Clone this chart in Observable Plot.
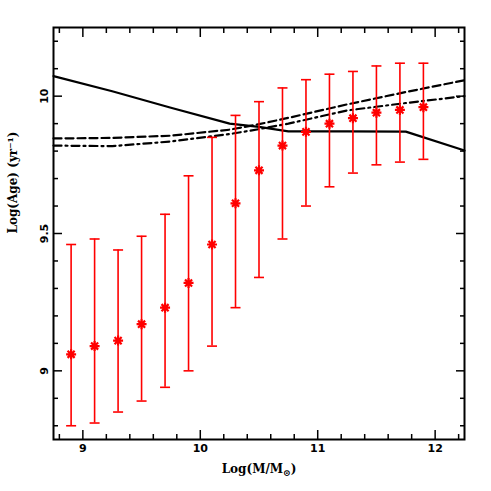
<!DOCTYPE html>
<html><head><meta charset="utf-8">
<script src="https://cdn.jsdelivr.net/npm/d3@7"></script>
<script src="https://cdn.jsdelivr.net/npm/@observablehq/plot@0.6"></script>
<style>html,body{margin:0;padding:0;background:#fff}</style>
</head><body><div id="chart"></div>
<script>
// Binned observations: log stellar mass vs log age
const massBins = [8.9, 9.1, 9.3, 9.5, 9.7, 9.9, 10.1, 10.3, 10.5, 10.7, 10.9, 11.1, 11.3, 11.5, 11.7, 11.9];
const ageMean  = [9.06, 9.09, 9.11, 9.17, 9.23, 9.32, 9.46, 9.61, 9.73, 9.82, 9.87, 9.90, 9.92, 9.94, 9.95, 9.96];
const ageHigh  = [9.46, 9.48, 9.44, 9.49, 9.57, 9.71, 9.85, 9.93, 9.98, 10.03, 10.06, 10.08, 10.09, 10.11, 10.12, 10.12];
const ageLow   = [8.80, 8.81, 8.85, 8.89, 8.94, 9.00, 9.09, 9.23, 9.34, 9.48, 9.60, 9.67, 9.72, 9.75, 9.76, 9.77];

// Model curves
const modelMass   = [8.75, 9.25, 9.75, 10.25, 10.5, 10.75, 11.25, 11.75, 12.25];
const modelSolid  = [10.073, 10.018, 9.958, 9.900, 9.888, 9.872, 9.872, 9.871, 9.802];
const modelDashed = [9.846, 9.848, 9.856, 9.878, 9.898, 9.921, 9.970, 10.015, 10.058];
const modelDotDash= [9.820, 9.818, 9.835, 9.862, 9.880, 9.900, 9.948, 9.975, 10.000];

// Ticks
const xMajor = [9, 10, 11, 12];
const xMinor = [8.8, 9.2, 9.4, 9.6, 9.8, 10.2, 10.4, 10.6, 10.8, 11.2, 11.4, 11.6, 11.8, 12.2];
const yMajor = [9, 9.5, 10];
const yMinor = [8.8, 8.9, 9.1, 9.2, 9.3, 9.4, 9.6, 9.7, 9.8, 9.9, 10.1, 10.2];
const xTickLabels = ["9", "10", "11", "12"];
const yTickLabels = ["9", "9.5", "10"];
const xLabel = "Log(M/M⊙)";
const yLabel = "Log(Age) (yr⁻¹)";

const obs = massBins.map((m, i) => ({mass: m, mean: ageMean[i], hi: ageHigh[i], lo: ageLow[i]}));
const mk = ys => modelMass.map((m, i) => ({mass: m, age: ys[i]}));

const capSymbol = {draw(ctx, size) { const r = Math.sqrt(size / Math.PI); ctx.moveTo(-r, 0); ctx.lineTo(r, 0); }};
const starSymbol = {draw(ctx, size) {
  const r = Math.sqrt(size / Math.PI);
  for (const a of [0, 45, 90, 135]) {
    const t = a * Math.PI / 180, c = Math.cos(t) * r, s = Math.sin(t) * r;
    ctx.moveTo(-c, -s); ctx.lineTo(c, s);
  }
}};
// inward ticks drawn as axis tick marks with negative size
const tickX = (vals, side, len) => Plot.axisX(vals, {anchor: side, tickSize: -len, tickFormat: () => "", label: null, stroke: "black", strokeWidth: 1.5});
const tickY = (vals, side, len) => Plot.axisY(vals, {anchor: side, tickSize: -len, tickFormat: () => "", label: null, stroke: "black", strokeWidth: 1.5});

const tickFont = {fontFamily: "DejaVu Sans", fontSize: 11, fontWeight: "bold"};
const labFont = {fontFamily: "DejaVu Serif", fontSize: 12, fontWeight: "bold"};

const chart = Plot.plot({
  width: 491, height: 491,
  marginLeft: 53, marginRight: 27, marginTop: 27, marginBottom: 52,
  x: {domain: [8.75, 12.25]},
  y: {domain: [8.75, 10.25]},
  marks: [
    Plot.line(mk(modelSolid), {x: "mass", y: "age", stroke: "black", strokeWidth: 2.2}),
    Plot.line(mk(modelDashed), {x: "mass", y: "age", stroke: "black", strokeWidth: 2.2, strokeDasharray: "8,4"}),
    Plot.line(mk(modelDotDash), {x: "mass", y: "age", stroke: "black", strokeWidth: 2.2, strokeDasharray: "8,4,2,4"}),
    Plot.ruleX(obs, {x: "mass", y1: "lo", y2: "hi", stroke: "red", strokeWidth: 1.6}),
    Plot.dot(obs, {x: "mass", y: "hi", symbol: capSymbol, r: 5, stroke: "red", strokeWidth: 1.6}),
    Plot.dot(obs, {x: "mass", y: "lo", symbol: capSymbol, r: 5, stroke: "red", strokeWidth: 1.6}),
    Plot.dot(obs, {x: "mass", y: "mean", symbol: starSymbol, r: 5, stroke: "red", strokeWidth: 2.2}),
    tickX(xMinor, "bottom", 5), tickX(xMinor, "top", 5),
    tickX(xMajor, "bottom", 9), tickX(xMajor, "top", 9),
    tickY(yMinor, "left", 5), tickY(yMinor, "right", 5),
    tickY(yMajor, "left", 9), tickY(yMajor, "right", 9),
    Plot.axisX(xMajor, {anchor: "bottom", tickSize: 0, tickPadding: 5, tickFormat: (d, i) => xTickLabels[i], label: null, ...tickFont}),
    Plot.axisY(yMajor, {anchor: "left", tickSize: 0, tickPadding: 6, tickRotate: -90, tickFormat: (d, i) => yTickLabels[i], label: null, ...tickFont}),
    Plot.text([xLabel], {frameAnchor: "bottom", dy: 30, lineAnchor: "middle", ...labFont}),
    Plot.text([yLabel], {frameAnchor: "left", dx: -40, rotate: -90, lineAnchor: "middle", ...labFont}),
    Plot.frame({stroke: "black", strokeWidth: 2})
  ]
});

// subscript the solar symbol in the x label
chart.querySelectorAll("text").forEach(t => {
  if (t.textContent === xLabel) {
    t.textContent = "";
    const ns = "http://www.w3.org/2000/svg";
    const a = document.createElementNS(ns, "tspan"); a.textContent = "Log(M/M";
    const b = document.createElementNS(ns, "tspan"); b.textContent = "⊙"; b.setAttribute("font-size", "9"); b.setAttribute("dy", "3");
    const c = document.createElementNS(ns, "tspan"); c.textContent = ")"; c.setAttribute("dy", "-3");
    t.append(a, b, c);
  }
});
document.getElementById("chart").append(chart);
</script>
</body></html>
